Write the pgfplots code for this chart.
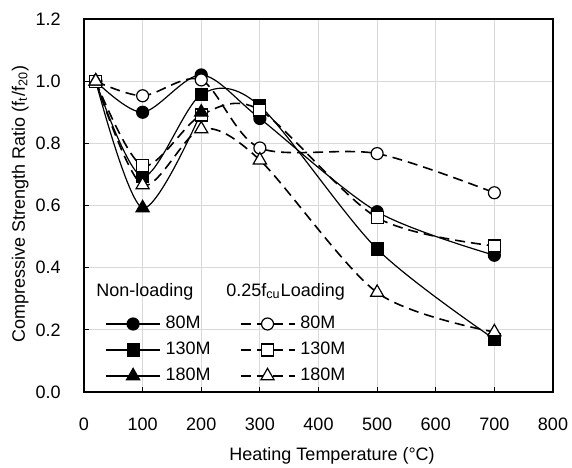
\documentclass[border=0pt]{standalone}
\usepackage{fontspec}
\setmainfont{Liberation Sans}
\usepackage{pgfplots}
\pgfplotsset{compat=1.18}
\begin{document}
\begin{tikzpicture}[font=\fontsize{9bp}{11bp}\selectfont]
\useasboundingbox (-42bp,-38bp) rectangle (244bp,196bp);
\begin{axis}[
  scale only axis, width=234.5bp, height=186.5bp,
  xmin=0, xmax=800, ymin=0, ymax=1.2,
  xtick={0,100,200,300,400,500,600,700,800},
  xticklabels={0,100,200,300,400,500,600,700,800},
  ytick={0,0.2,0.4,0.6,0.8,1.0,1.2},
  yticklabels={0.0,0.2,0.4,0.6,0.8,1.0,1.2},
  xtick pos=bottom, ytick pos=left,
  tick align=inside, major tick length=2.5bp,
  tick style={black, line width=0.5bp},
  grid=major, major grid style={line width=0.5bp, color=black!15},
  axis line style={line width=1.1bp},
  xticklabel style={inner sep=0pt, yshift=-13bp},
  yticklabel style={inner sep=0pt, xshift=-11.5bp},
  xlabel={Heating Temperature (°C)},
  xlabel style={at={(axis description cs:0.529,-0.172)}, anchor=center},
  ylabel={Compressive Strength Ratio (f\textsubscript{t}/f\textsubscript{20})},
  ylabel style={at={(axis description cs:-0.136,0.504)}, anchor=center, rotate=0},
  legend columns=2,
  legend image code/.code={\draw[mark repeat=2,mark phase=2] plot coordinates {(0bp,0bp)(13.5bp,0bp)(27bp,0bp)};},
  legend style={at={(axis description cs:0.045,0.007)}, anchor=south west,
    draw=none, fill=none, inner sep=0pt, column sep=2.5bp, row sep=0bp,
    nodes={inner sep=0pt, text height=9bp, text depth=4bp},
    legend cell align=left,
    /tikz/every even column/.append style={column sep=14.5bp}},
  sol/.style={black, line width=0.6bp, smooth, mark size=3bp, mark options={solid, fill=black}},
  das/.style={black, line width=0.8bp, dash pattern=on 5bp off 3bp, smooth, mark size=3bp, mark options={solid, fill=white, line width=0.6bp}},
]
\addplot[sol, mark=*] coordinates {(20,1.0) (100,0.90) (200,1.02) (300,0.88) (500,0.58) (700,0.44)};
\addlegendentry{80M}
\addplot[das, mark=*] coordinates {(20,1.0) (100,0.953) (200,1.004) (300,0.785) (500,0.767) (700,0.641)};
\addlegendentry{80M}
\addplot[sol, mark=square*] coordinates {(20,1.0) (100,0.693) (200,0.957) (300,0.92) (500,0.46) (700,0.17)};
\addlegendentry{130M}
\addplot[das, mark=square*] coordinates {(20,1.0) (100,0.728) (200,0.891) (300,0.907) (500,0.561) (700,0.47)};
\addlegendentry{130M}
\addplot[sol, mark=triangle*, mark size=3.8bp] coordinates {(20,1.0) (100,0.592) (200,0.90)};
\addlegendentry{180M}
\addplot[das, mark=triangle*, mark size=3.8bp] coordinates {(20,1.0) (100,0.666) (200,0.846) (300,0.746) (500,0.32) (700,0.193)};
\addlegendentry{180M}
\node[anchor=base west, inner sep=0pt] at (axis description cs:0.0256,0.2547) {Non-loading};
\node[anchor=base west, inner sep=0pt] at (axis description cs:0.3028,0.2547) {0.25f\textsubscript{cu}Loading};
\end{axis}
\end{tikzpicture}
\end{document}
